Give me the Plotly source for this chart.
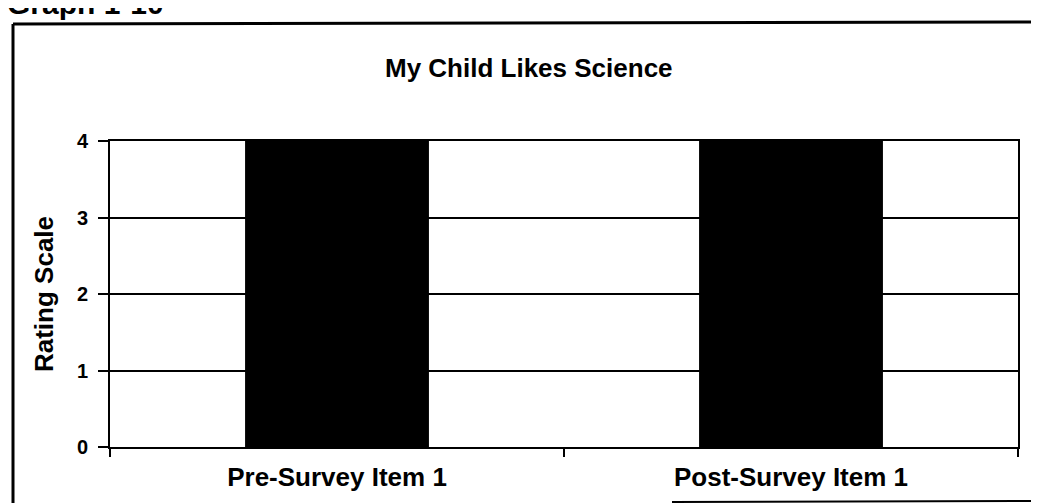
import plotly.graph_objects as go

categories = ["Pre-Survey Item 1", "Post-Survey Item 1"]
ratings = [4, 4]
y_ticks = [0, 1, 2, 3, 4]

OFF = 8  # page body margin
W, H = 1039 - OFF, 503 - OFF
L, R, T = 110 - OFF, 1039 - 1018, 141 - OFF
B = H - (447 - OFF)
pw, ph = W - L - R, H - T - B


def px(x):
    """screen x -> paper"""
    return (x - OFF - L) / pw


def py(y):
    """screen y -> paper"""
    return (H - B - (y - OFF)) / ph


FONT = "Liberation Sans, Arial, sans-serif"

fig = go.Figure()
fig.add_trace(go.Bar(x=categories, y=ratings, marker=dict(color="black", line=dict(width=0)), width=0.405))

fig.update_layout(
    width=W, height=H,
    margin=dict(l=L, r=R, t=T, b=B),
    paper_bgcolor="white", plot_bgcolor="white",
    showlegend=False,
    font=dict(family=FONT, color="black"),
    xaxis=dict(
        showline=True, linecolor="black", linewidth=2, mirror=True,
        ticks="outside", ticklen=8, tickwidth=2, tickcolor="black",
        tickson="boundaries", showgrid=False,
        tickfont=dict(size=26, family=FONT, color="black", weight="bold"),
        ticklabelstandoff=6,
    ),
    yaxis=dict(
        range=[0, 4], tickvals=y_ticks,
        showline=True, linecolor="black", linewidth=2, mirror=True,
        ticks="outside", ticklen=10, tickwidth=2, tickcolor="black",
        showgrid=True, gridcolor="black", gridwidth=2,
        tickfont=dict(size=20, family=FONT, color="black", weight="bold"),
        ticklabelstandoff=6,
        title=dict(text="Rating Scale", font=dict(size=26, family=FONT, color="black", weight="bold"), standoff=16),
        zeroline=False,
    ),
)

fig.add_annotation(text="<b>My Child Likes Science</b>", xref="paper", yref="paper",
                   x=px(529), y=py(51), showarrow=False, font=dict(size=26, family=FONT, color="black"))
fig.add_annotation(text="<b>Graph 1-10</b>", xref="paper", yref="paper", xanchor="left", yanchor="bottom",
                   x=px(5), y=py(22), showarrow=False, font=dict(size=30, family=FONT, color="black"))

# outer frame
fig.add_shape(type="line", xref="paper", yref="paper", x0=px(13), x1=px(13), y0=py(24), y1=py(510),
              line=dict(color="black", width=3))
fig.add_shape(type="line", xref="paper", yref="paper", x0=px(13), x1=px(1045), y0=py(24), y1=py(22),
              line=dict(color="black", width=3))
fig.add_shape(type="line", xref="paper", yref="paper", x0=px(672), x1=px(1045), y0=py(502), y1=py(501),
              line=dict(color="black", width=2))

fig.write_html("out.html")
